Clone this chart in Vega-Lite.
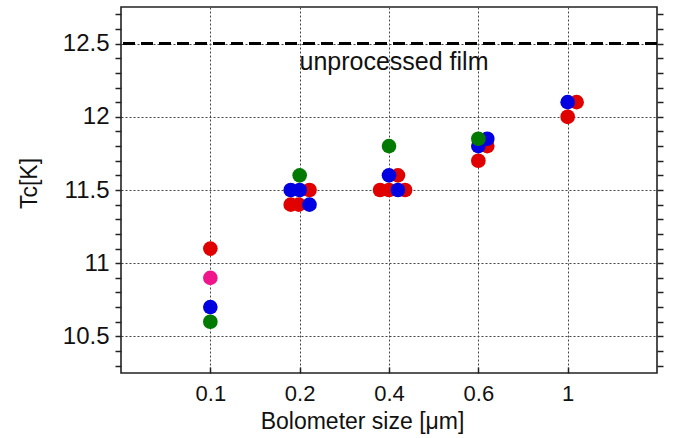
{
  "$schema": "https://vega.github.io/schema/vega-lite/v6.json",
  "width": 536,
  "height": 366,
  "autosize": {"type": "none"},
  "padding": {"left": 121, "top": 7, "right": 18, "bottom": 65},
  "background": "white",
  "config": {
    "view": {"stroke": "#222", "strokeWidth": 1.6},
    "font": "Liberation Sans",
    "axis": {"labelColor": "#111", "titleColor": "#111", "domain": false, "labelFont": "Liberation Sans", "titleFont": "Liberation Sans"}
  },
  "datasets": {
    "points": [
      {"size": "0.1", "series": "red", "pos": 1.0, "tc": 11.1},
      {"size": "0.2", "series": "red", "pos": 1.9, "tc": 11.4},
      {"size": "0.2", "series": "red", "pos": 1.99, "tc": 11.4},
      {"size": "0.2", "series": "red", "pos": 2.11, "tc": 11.5},
      {"size": "0.4", "series": "red", "pos": 2.9, "tc": 11.5},
      {"size": "0.4", "series": "red", "pos": 3.0, "tc": 11.5},
      {"size": "0.4", "series": "red", "pos": 3.18, "tc": 11.5},
      {"size": "0.4", "series": "red", "pos": 3.1, "tc": 11.6},
      {"size": "0.6", "series": "red", "pos": 4.1, "tc": 11.8},
      {"size": "0.6", "series": "red", "pos": 4.0, "tc": 11.7},
      {"size": "1", "series": "red", "pos": 5.1, "tc": 12.1},
      {"size": "1", "series": "red", "pos": 5.0, "tc": 12.0},
      {"size": "0.1", "series": "magenta", "pos": 1.0, "tc": 10.9},
      {"size": "0.1", "series": "blue", "pos": 1.0, "tc": 10.7},
      {"size": "0.2", "series": "blue", "pos": 1.9, "tc": 11.5},
      {"size": "0.2", "series": "blue", "pos": 2.0, "tc": 11.5},
      {"size": "0.2", "series": "blue", "pos": 2.11, "tc": 11.4},
      {"size": "0.4", "series": "blue", "pos": 3.0, "tc": 11.6},
      {"size": "0.4", "series": "blue", "pos": 3.1, "tc": 11.5},
      {"size": "0.6", "series": "blue", "pos": 4.1, "tc": 11.85},
      {"size": "0.6", "series": "blue", "pos": 4.0, "tc": 11.8},
      {"size": "1", "series": "blue", "pos": 5.0, "tc": 12.1},
      {"size": "0.1", "series": "green", "pos": 1.0, "tc": 10.6},
      {"size": "0.2", "series": "green", "pos": 2.0, "tc": 11.6},
      {"size": "0.4", "series": "green", "pos": 3.0, "tc": 11.8},
      {"size": "0.6", "series": "green", "pos": 4.0, "tc": 11.85}
    ],
    "reference": [
      {"label": "unprocessed film", "tc": 12.5}
    ]
  },
  "layer": [
    {
      "data": {"name": "points"},
      "mark": {"type": "point", "filled": true, "shape": "circle", "size": 215, "opacity": 1, "strokeWidth": 0},
      "encoding": {
        "x": {
          "field": "pos", "type": "quantitative",
          "scale": {"domain": [0, 6], "nice": false, "zero": false},
          "axis": {
            "values": [1, 2, 3, 4, 5],
            "labelExpr": "['','0.1','0.2','0.4','0.6','1'][datum.value]",
            "grid": true, "gridDash": [2, 2], "gridColor": "#444", "gridWidth": 1,
            "tickSize": -6, "tickColor": "#222", "tickWidth": 1.5,
            "labelFontSize": 22, "labelPadding": 16,
            "title": "Bolometer size [μm]", "titleFontSize": 23, "titleFontWeight": "normal", "titlePadding": 6,
            "titleX": 241
          }
        },
        "y": {
          "field": "tc", "type": "quantitative",
          "scale": {"domain": [10.25, 12.75], "nice": false, "zero": false},
          "axis": {
            "orient": "left",
            "values": [10.3, 10.4, 10.5, 10.6, 10.7, 10.8, 10.9, 11, 11.1, 11.2, 11.3, 11.4, 11.5, 11.6, 11.7, 11.8, 11.9, 12, 12.1, 12.2, 12.3, 12.4, 12.5, 12.6, 12.7],
            "labelExpr": "abs(datum.value*2 - round(datum.value*2)) < 0.001 ? format(datum.value, '~g') : ''",
            "labelOverlap": false,
            "grid": true,
            "gridOpacity": {"condition": {"test": "abs(datum.value*2 - round(datum.value*2)) < 0.001", "value": 1}, "value": 0},
            "gridDash": [2, 2], "gridColor": "#444", "gridWidth": 1,
            "tickSize": 6, "tickColor": "#222", "tickWidth": 1.5,
            "labelFontSize": 24, "labelPadding": 6,
            "title": "Tc[K]", "titleFontSize": 23, "titleFontWeight": "normal", "titlePadding": 21,
            "titleY": 176
          }
        },
        "color": {
          "field": "series", "type": "nominal",
          "scale": {"domain": ["red", "magenta", "blue", "green"], "range": ["#e00000", "#f0158a", "#0000e0", "#007a00"]},
          "legend": null
        }
      }
    },
    {
      "data": {"name": "reference"},
      "mark": {"type": "rule", "color": "#000", "strokeWidth": 3, "strokeDash": [12, 6]},
      "encoding": {
        "y": {
          "field": "tc", "type": "quantitative",
          "axis": {
            "orient": "right",
            "values": [10.3, 10.4, 10.5, 10.6, 10.7, 10.8, 10.9, 11, 11.1, 11.2, 11.3, 11.4, 11.5, 11.6, 11.7, 11.8, 11.9, 12, 12.1, 12.2, 12.3, 12.4, 12.5, 12.6, 12.7],
            "labels": false, "grid": false, "title": null,
            "tickSize": 6, "tickColor": "#222", "tickWidth": 1.5
          }
        }
      }
    },
    {
      "data": {"name": "reference"},
      "mark": {"type": "text", "fontSize": 25, "font": "Liberation Sans", "color": "#111", "align": "center", "baseline": "alphabetic"},
      "encoding": {
        "text": {"field": "label"},
        "x": {"datum": 3.056, "type": "quantitative"},
        "y": {"datum": 12.32, "type": "quantitative", "axis": null}
      }
    }
  ],
  "resolve": {"axis": {"y": "independent"}}
}
